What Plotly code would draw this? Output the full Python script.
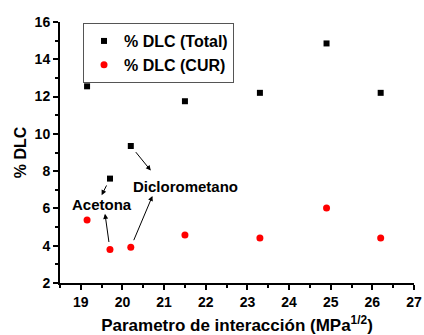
import plotly.graph_objects as go

param = [19.15, 19.7, 20.2, 21.5, 23.3, 24.9, 26.2]
dlc_total = [12.55, 7.6, 9.35, 11.75, 12.2, 14.85, 12.2]
dlc_cur = [5.38, 3.8, 3.92, 4.57, 4.42, 6.02, 4.42]

FONT = "Arial, 'Liberation Sans', sans-serif"

fig = go.Figure()
fig.add_trace(go.Scatter(x=param, y=dlc_total, mode="markers", name="<b>% DLC (Total)</b>",
                         marker=dict(symbol="square", size=6, color="black")))
fig.add_trace(go.Scatter(x=param, y=dlc_cur, mode="markers", name="<b>% DLC (CUR)</b>",
                         marker=dict(symbol="circle", size=7, color="#ff0000")))

# labels
fig.add_annotation(x=19.52, y=6.19, text="<b>Acetona</b>", showarrow=False,
                   font=dict(family=FONT, size=15, color="black"))
fig.add_annotation(x=21.51, y=7.17, text="<b>Diclorometano</b>", showarrow=False,
                   font=dict(family=FONT, size=15, color="black"))

# arrows: tail at data point (index), head near label
arrows = [(2, dlc_total, 20.68, 8.03), (1, dlc_total, 19.50, 6.71),
          (1, dlc_cur, 19.58, 5.71), (2, dlc_cur, 20.72, 6.67)]
for i, series, hx, hy in arrows:
    fig.add_annotation(x=hx, y=hy, ax=param[i], ay=series[i], axref="x", ayref="y",
                       xref="x", yref="y", text="", showarrow=True,
                       arrowhead=2, arrowsize=1, arrowwidth=1, arrowcolor="black",
                       startstandoff=6)

axis_common = dict(showline=True, linecolor="black", linewidth=2, mirror=False,
                   ticks="outside", ticklen=5, tickwidth=2, tickcolor="black",
                   showgrid=False, zeroline=False, automargin=False,
                   tickfont=dict(family=FONT, size=14, color="black"))

fig.update_xaxes(range=[18.5, 27], dtick=1, tick0=19,
                 minor=dict(dtick=0.5, ticks="outside", ticklen=3, tickcolor="black", tickwidth=1.5),
                 title=dict(text="<b>Parametro de interacción (MPa<sup>1/2</sup>)</b>",
                            font=dict(family=FONT, size=17, color="black"), standoff=17),
                 tickprefix="<b>", ticksuffix="</b>",
                 **axis_common)
fig.update_yaxes(range=[2, 16], dtick=2, tick0=2,
                 minor=dict(dtick=1, ticks="outside", ticklen=3, tickcolor="black", tickwidth=1.5),
                 title=dict(text="<b>% DLC</b>",
                            font=dict(family=FONT, size=16, color="black"), standoff=4),
                 tickprefix="<b>", ticksuffix="</b>",
                 **axis_common)

fig.update_layout(
    width=424, height=335,
    margin=dict(l=60, r=10, t=22, b=52),
    paper_bgcolor="white", plot_bgcolor="white",
    showlegend=True,
    legend=dict(x=0.065, y=0.996, xanchor="left", yanchor="top",
                bordercolor="#555555", borderwidth=1, bgcolor="white",
                font=dict(family=FONT, size=16, color="black"),
                itemwidth=30, tracegroupgap=0),
    font=dict(family=FONT, color="black"),
)

fig.write_html("out.html")
